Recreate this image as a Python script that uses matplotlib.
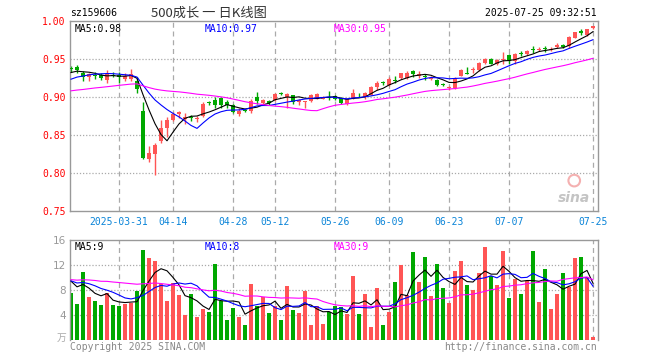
import numpy as np
import matplotlib
matplotlib.use("Agg")
import matplotlib.pyplot as plt

# ---- data (sz159606 daily K, 2025-03-19 .. 2025-07-25) ----
opens = [0.938, 0.939, 0.932, 0.926, 0.929, 0.929, 0.922, 0.929, 0.929, 0.924,
         0.924, 0.921, 0.881, 0.818, 0.825, 0.842, 0.859, 0.870, 0.877, 0.871,
         0.873, 0.871, 0.875, 0.893, 0.896, 0.899, 0.894, 0.889, 0.877, 0.883,
         0.881, 0.900, 0.892, 0.895, 0.896, 0.905, 0.900, 0.902, 0.893, 0.894,
         0.895, 0.898, 0.898, 0.900, 0.901, 0.899, 0.891, 0.898, 0.903, 0.900,
         0.903, 0.913, 0.919, 0.916, 0.922, 0.925, 0.925, 0.934, 0.927, 0.927,
         0.924, 0.922, 0.917, 0.912, 0.912, 0.928, 0.931, 0.935, 0.935, 0.945,
         0.950, 0.943, 0.949, 0.955, 0.948, 0.958, 0.956, 0.963, 0.962, 0.964,
         0.962, 0.966, 0.969, 0.967, 0.977, 0.987, 0.981, 0.991]
highs = [0.941, 0.942, 0.934, 0.932, 0.933, 0.931, 0.935, 0.933, 0.933, 0.931,
         0.937, 0.926, 0.893, 0.836, 0.839, 0.870, 0.874, 0.880, 0.882, 0.879,
         0.876, 0.875, 0.893, 0.895, 0.900, 0.900, 0.896, 0.891, 0.885, 0.884,
         0.897, 0.907, 0.897, 0.896, 0.905, 0.907, 0.905, 0.903, 0.897, 0.895,
         0.904, 0.905, 0.901, 0.908, 0.902, 0.900, 0.898, 0.910, 0.905, 0.907,
         0.914, 0.921, 0.921, 0.926, 0.928, 0.932, 0.934, 0.936, 0.934, 0.930,
         0.928, 0.924, 0.919, 0.915, 0.926, 0.937, 0.939, 0.939, 0.946, 0.951,
         0.951, 0.950, 0.959, 0.957, 0.958, 0.961, 0.962, 0.967, 0.966, 0.967,
         0.966, 0.971, 0.970, 0.980, 0.986, 0.989, 0.990, 0.993]
lows = [0.933, 0.932, 0.921, 0.921, 0.924, 0.923, 0.918, 0.926, 0.918, 0.921,
        0.921, 0.905, 0.818, 0.814, 0.797, 0.840, 0.848, 0.869, 0.872, 0.865,
        0.869, 0.867, 0.874, 0.889, 0.886, 0.885, 0.886, 0.879, 0.875, 0.880,
        0.879, 0.891, 0.891, 0.890, 0.895, 0.902, 0.886, 0.891, 0.889, 0.886,
        0.894, 0.897, 0.897, 0.896, 0.896, 0.891, 0.890, 0.897, 0.900, 0.898,
        0.902, 0.909, 0.916, 0.915, 0.918, 0.924, 0.924, 0.926, 0.925, 0.922,
        0.922, 0.914, 0.914, 0.909, 0.911, 0.927, 0.930, 0.932, 0.934, 0.944,
        0.943, 0.942, 0.944, 0.944, 0.944, 0.954, 0.955, 0.958, 0.960, 0.959,
        0.960, 0.965, 0.964, 0.965, 0.977, 0.981, 0.980, 0.990]
closes = [0.937, 0.935, 0.926, 0.930, 0.928, 0.925, 0.930, 0.928, 0.926, 0.928,
          0.930, 0.911, 0.820, 0.826, 0.837, 0.859, 0.870, 0.877, 0.880, 0.874,
          0.872, 0.872, 0.891, 0.892, 0.889, 0.889, 0.889, 0.880, 0.882, 0.881,
          0.895, 0.895, 0.896, 0.892, 0.904, 0.904, 0.904, 0.893, 0.896, 0.895,
          0.902, 0.904, 0.899, 0.899, 0.898, 0.892, 0.897, 0.905, 0.902, 0.905,
          0.913, 0.919, 0.918, 0.924, 0.921, 0.931, 0.932, 0.930, 0.930, 0.926,
          0.925, 0.916, 0.916, 0.913, 0.925, 0.935, 0.930, 0.936, 0.945, 0.950,
          0.944, 0.949, 0.950, 0.947, 0.956, 0.957, 0.961, 0.962, 0.963, 0.963,
          0.963, 0.969, 0.966, 0.979, 0.985, 0.984, 0.989, 0.993]
volumes = [7.57, 5.76, 10.88, 6.88, 6.24, 5.60, 7.57, 5.60, 5.44, 5.76,
           5.97, 7.89, 14.40, 13.12, 12.64, 8.96, 6.24, 9.07, 7.20, 4.00,
           7.36, 3.63, 4.96, 4.48, 12.16, 6.24, 3.20, 5.12, 3.68, 2.40,
           8.96, 5.49, 6.88, 4.32, 5.44, 3.20, 8.64, 4.80, 4.32, 7.84,
           2.40, 5.44, 2.56, 4.53, 5.44, 5.33, 4.16, 10.29, 4.16, 7.36,
           2.08, 8.32, 2.40, 4.48, 9.28, 12.05, 7.25, 14.08, 9.28, 13.28,
           7.04, 12.16, 8.32, 5.92, 11.04, 12.64, 8.80, 8.00, 10.77, 14.88,
           10.24, 8.80, 14.30, 6.72, 9.81, 7.36, 9.39, 14.29, 6.08, 11.41,
           5.01, 7.36, 10.77, 8.43, 13.12, 13.33, 10.03, 0.53]

# closes / volumes of the 29 sessions before the window (only feed the moving averages)
pre_close = [0.905, 0.903, 0.900, 0.898, 0.902, 0.904, 0.901, 0.899, 0.903, 0.905,
             0.902, 0.898, 0.896, 0.897, 0.899, 0.900, 0.897, 0.898, 0.901, 0.902,
             0.907, 0.912, 0.915, 0.918, 0.921, 0.926, 0.930, 0.933, 0.935]
pre_vol = [8.2, 9.1, 7.8, 8.6, 9.4, 8.0, 8.8, 7.9, 8.5, 8.7,
           10.5, 12.3, 11.8, 10.2, 11.6, 9.8, 12.4, 10.9, 11.1, 9.4,
           9.2, 10.1, 8.8, 9.6, 9.9, 10.3, 9.0, 9.8, 10.4]

tick_pos = [8, 17, 27, 34, 44, 53, 63, 73, 87]
tick_labels = ["2025-03-31", "04-14", "04-28", "05-12", "05-26",
               "06-09", "06-23", "07-07", "07-25"]
price_ticks = [0.75, 0.80, 0.85, 0.90, 0.95, 1.00]
vol_ticks = [4, 8, 12, 16]

RED = "#ff5555"
GREEN = "#00a800"
GRID = "#aaaaaa"
MONO = "DejaVu Sans Mono"


def ma(values, history, n):
    s = np.array(history + values, dtype=float)
    out = np.convolve(s, np.ones(n) / n, mode="valid")
    return out[-len(values):]


def trunc(v, d=2):
    f = 10 ** d
    return np.floor(v * f) / f


o = np.array(opens); h = np.array(highs); l = np.array(lows); c = np.array(closes)
v = np.array(volumes)
x = np.arange(len(c))
up = c >= o
cols = np.where(up, RED, GREEN)

fig = plt.figure(figsize=(6.6, 3.6), dpi=100)
W, H = 660.0, 360.0
ax = fig.add_axes([70 / W, 1 - 211 / H, 528 / W, 190 / H])
axv = fig.add_axes([70 / W, 1 - 340 / H, 528 / W, 100 / H])

xlim = (-0.17, len(c) - 1 + 0.83)

# ---- price panel ----
for t in tick_pos:
    ax.axvline(t, color=GRID, lw=0.9, ls=(0, (4, 3)), zorder=0)
for yv in price_ticks[1:-1]:
    ax.axhline(yv, color=GRID, lw=0.9, ls=(0, (1, 1.5)), zorder=0)

ax.vlines(x, l, h, colors=cols, lw=1.0, zorder=2)
body_h = np.maximum(np.abs(c - o), 0.0012)
ax.bar(x, body_h, bottom=np.minimum(o, c), width=0.8, color=cols, lw=0, zorder=3)

m5 = ma(closes, pre_close, 5)
m10 = ma(closes, pre_close, 10)
m30 = ma(closes, pre_close, 30)
ax.plot(x, m5, color="black", lw=0.8, zorder=4)
ax.plot(x, m10, color="#0000ff", lw=0.8, zorder=4)
ax.plot(x, m30, color="#ff00ff", lw=0.8, zorder=4)

ax.set_xlim(*xlim)
ax.set_ylim(0.75, 1.00)
ax.set_yticks(price_ticks)
ax.set_yticklabels([f"{p:.2f}" for p in price_ticks], color="#ff0000",
                   fontfamily=MONO, fontsize=7)
ax.set_xticks(tick_pos)
ax.set_xticklabels(tick_labels, color="#0a84d8", fontfamily=MONO, fontsize=7)
ax.tick_params(length=0, pad=3)
ax.tick_params(axis="x", pad=4)
for sp in ax.spines.values():
    sp.set_color("#999999")
    sp.set_linewidth(1.0)

ax.text(5 / 528, 0.985, f"MA5:{trunc(m5[-1]):.2f}", transform=ax.transAxes,
        color="black", fontfamily=MONO, fontsize=7, va="top")
ax.text(135 / 528, 0.985, f"MA10:{trunc(m10[-1]):.2f}", transform=ax.transAxes,
        color="#0000ff", fontfamily=MONO, fontsize=7, va="top")
ax.text(264 / 528, 0.985, f"MA30:{trunc(m30[-1]):.2f}", transform=ax.transAxes,
        color="#ff00ff", fontfamily=MONO, fontsize=7, va="top")

# sina watermark
ax.text(0.985, 0.03, "sina", transform=ax.transAxes, ha="right", va="bottom",
        color="#c4c4c4", fontsize=10, fontweight="bold", style="italic")
ax.scatter([0.955], [0.16], s=70, transform=ax.transAxes, facecolor="none",
           edgecolor="#f4b0b0", lw=1.5, zorder=1)

# ---- volume panel ----
for t in tick_pos:
    axv.axvline(t, color=GRID, lw=0.9, ls=(0, (4, 3)), zorder=0)
for yv in [0, 4, 8, 12]:
    axv.axhline(yv, color=GRID, lw=0.9, ls=(0, (1, 1.5)), zorder=0)

axv.bar(x, v, width=0.82, color=cols, lw=0, zorder=2)
v5 = ma(volumes, pre_vol, 5)
v10 = ma(volumes, pre_vol, 10)
v30 = ma(volumes, pre_vol, 30)
axv.plot(x, v5, color="black", lw=0.8, zorder=3)
axv.plot(x, v10, color="#0000ff", lw=0.8, zorder=3)
axv.plot(x, v30, color="#ff00ff", lw=0.8, zorder=3)

axv.set_xlim(*xlim)
axv.set_ylim(0, 16)
axv.set_xticks([])
axv.set_yticks(vol_ticks)
axv.set_yticklabels([str(t) for t in vol_ticks], color="#999999",
                    fontfamily="DejaVu Sans", fontsize=7.5)
axv.tick_params(length=0, pad=3)
for name, sp in axv.spines.items():
    sp.set_color("#999999")
    sp.set_linewidth(1.0)
axv.spines["bottom"].set_visible(False)

axv.text(5 / 528, 0.98, f"MA5:{int(v5[-1])}", transform=axv.transAxes,
         color="black", fontfamily=MONO, fontsize=7, va="top")
axv.text(135 / 528, 0.98, f"MA10:{int(v10[-1])}", transform=axv.transAxes,
         color="#0000ff", fontfamily=MONO, fontsize=7, va="top")
axv.text(264 / 528, 0.98, f"MA30:{int(v30[-1])}", transform=axv.transAxes,
         color="#ff00ff", fontfamily=MONO, fontsize=7, va="top")

# ---- header / footer text ----
fig.text(70 / W, 1 - 13 / H, "sz159606", fontfamily=MONO, fontsize=7,
         color="black", va="center")
fig.text(209 / W, 1 - 13 / H, "500成长 一 日K线图",
         fontfamily=["Noto Sans CJK SC", "DejaVu Sans"], fontsize=9.5,
         color="#333333", va="center", ha="center")
fig.text(597 / W, 1 - 13 / H, "2025-07-25 09:32:51", fontfamily=MONO,
         fontsize=7, color="black", va="center", ha="right")
fig.text(66 / W, 1 - 338 / H, "万", fontfamily=["Noto Sans CJK SC", "DejaVu Sans"],
         fontsize=7, color="#aaaaaa", va="center", ha="right")
fig.text(70 / W, 1 - 347 / H, "Copyright 2025 SINA.COM", fontfamily=MONO,
         fontsize=7, color="#888888", va="center")
fig.text(597 / W, 1 - 347 / H, "http://finance.sina.com.cn", fontfamily=MONO,
         fontsize=7, color="#888888", va="center", ha="right")

fig.savefig("out.png", dpi=100)
